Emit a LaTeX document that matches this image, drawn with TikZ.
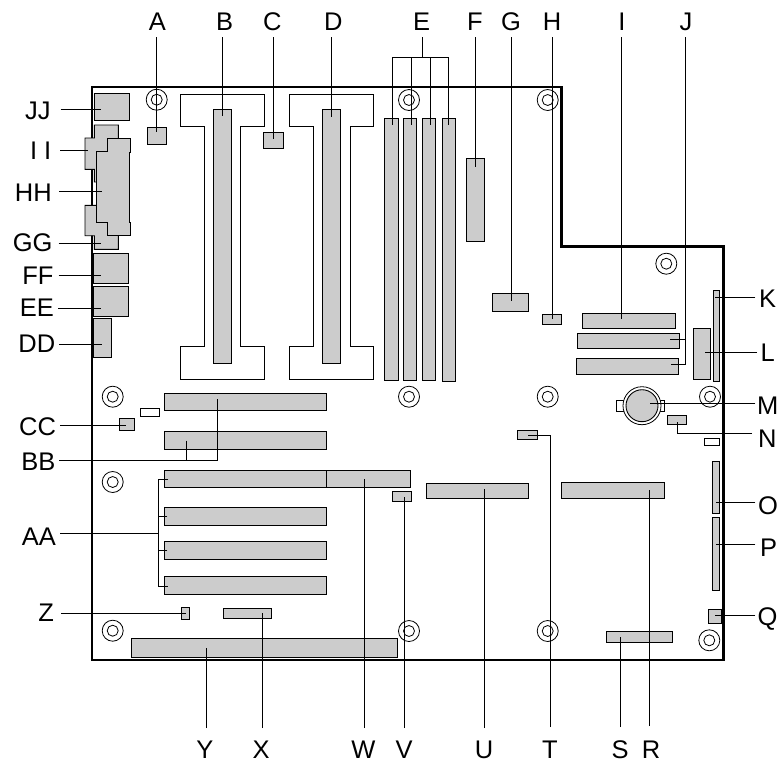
\documentclass[tikz,border=0pt]{standalone}
\usepackage{fontspec}
\setmainfont{Liberation Sans}
\tikzset{
  part/.style={draw=black,fill=black!20,line width=0.9pt},
  blank/.style={draw=black,fill=white,line width=0.9pt},
  edge/.style={draw=black,line width=2.6pt,miter limit=10},
  leader/.style={draw=black,line width=0.95pt},
  lbl/.style={font=\fontsize{25.5}{27}\selectfont,inner sep=0pt,outer sep=0pt},
  ring/.style={draw=black,fill=white,line width=0.8pt,circle,inner sep=0pt,outer sep=0pt}
}
% rectangular component, given by its corners
\newcommand{\cbox}[6][part]{%
  \pgfmathsetmacro{\cw}{#5-#3}\pgfmathsetmacro{\ch}{#6-#4}%
  \pgfmathsetmacro{\cx}{(#3+#5)/2}\pgfmathsetmacro{\cy}{(#4+#6)/2}%
  \node[#1,inner sep=0pt,outer sep=0pt,minimum width=\cw pt,minimum height=\ch pt] (#2) at (\cx,\cy) {};}
% mounting hole
\newcommand{\hole}[3]{%
  \node[ring,minimum size=21pt] (#1) at (#2,#3) {};
  \node[ring,minimum size=11pt] (#1i) at (#2,#3) {};}
% label with straight leader
\newcommand{\ltop}[4]{% name, x, end y, label x
  \node[lbl,anchor=base] (l#1) at (#4,30) {#1};
  \coordinate (s#1) at (#2,37);\coordinate (e#1) at (#2,#3);
  \draw[leader] (s#1) -- (e#1);}
\newcommand{\lbot}[5]{% name, x, start y, leader bottom, label x
  \node[lbl,anchor=base] (l#1) at (#5,758) {#1};
  \coordinate (s#1) at (#2,#4);\coordinate (e#1) at (#2,#3);
  \draw[leader] (s#1) -- (e#1);}
\newcommand{\lleft}[7]{% id, text, y, end x, text right, baseline, leader start
  \node[lbl,anchor=base east] (l#1) at (#5,#6) {#2};
  \coordinate (s#1) at (#7,#3);\coordinate (e#1) at (#4,#3);
  \draw[leader] (s#1) -- (e#1);}
\newcommand{\lright}[6]{% name, y, start x, end x, text left, baseline
  \node[lbl,anchor=base west] (l#1) at (#5,#6) {#1};
  \coordinate (s#1) at (#4,#2);\coordinate (e#1) at (#3,#2);
  \draw[leader] (s#1) -- (e#1);}
\begin{document}
\begin{tikzpicture}[x=1pt,y=-1pt]
\useasboundingbox (0,0) rectangle (778,761);
% board
\draw[edge] (92,87) -- (561.5,87) -- (561.5,246.5) -- (723.5,246.5) -- (723.5,660) -- (92,660) -- cycle;
% mounting holes
\hole{h1}{156.7}{99.7}\hole{h2}{409}{100}\hole{h3}{547.7}{100}\hole{h4}{666.3}{263.7}
\hole{h5}{112.7}{396.7}\hole{h6}{409}{396.7}\hole{h7}{547.7}{396.7}\hole{h8}{710}{396.7}
\hole{h9}{112.7}{482}\hole{h10}{112.7}{630.7}\hole{h11}{409}{631}\hole{h12}{547.7}{631}\hole{h13}{709.3}{640.3}
% processor outlines
\draw[blank] (180,94) -- (264.3,94) -- (264.3,126.3) -- (240.7,126.3) -- (240.7,346.7) -- (264.3,346.7) -- (264.3,379.7) -- (180,379.7) -- (180,346.7) -- (204.3,346.7) -- (204.3,126.3) -- (180,126.3) -- cycle;
\draw[blank] (289.3,94) -- (373.3,94) -- (373.3,126.3) -- (350,126.3) -- (350,346.7) -- (373.3,346.7) -- (373.3,379.7) -- (289.3,379.7) -- (289.3,346.7) -- (313.7,346.7) -- (313.7,126.3) -- (289.3,126.3) -- cycle;
% back panel
\cbox{jj}{94.3}{93.3}{129.7}{120.3}
\draw[part] (94.3,125) -- (118.3,125) -- (118.3,140) -- (110,182) -- (94.3,182) -- (94.3,169.3) -- (85,169.3) -- (85,138) -- (94.3,138) -- cycle;
\draw[part] (85,205.3) -- (110,205.3) -- (118.3,230) -- (118.3,249.3) -- (94.3,249.3) -- (94.3,235.7) -- (85,235.7) -- cycle;
\draw[part] (96,151.3) -- (107.7,151.3) -- (107.7,138) -- (130.7,138) -- (130.7,152) -- (129.7,152) -- (129.7,222.7) -- (130.7,222.7) -- (130.7,235.7) -- (107.7,235.7) -- (107.7,222.7) -- (96,222.7) -- cycle;
\cbox{ff}{93.3}{253.7}{128.3}{283.3}
\cbox{ee}{93.7}{286.7}{128.3}{316.3}
\cbox{dd}{93.3}{318.7}{111.7}{357.3}
% components
\cbox{a}{147}{127.3}{166.7}{144}
\cbox{b}{213.3}{109.7}{231.7}{363.7}
\cbox{c}{263.7}{132.3}{283}{148.7}
\cbox{d}{322.7}{109.7}{340.7}{363.7}
\cbox{e1}{384.3}{118.7}{398.7}{380.3}
\cbox{e2}{403.3}{118.7}{416.7}{380.3}
\cbox{e3}{422.3}{118.7}{435.7}{380.3}
\cbox{e4}{442.3}{118.7}{455.7}{381}
\cbox{f}{466.7}{158}{484.3}{241.7}
\cbox{g}{492.7}{293.7}{528}{311}
\cbox{h}{542.7}{314.3}{561.7}{324}
\cbox{i}{582.3}{313.3}{675.7}{328.7}
\cbox{j1}{577}{333.3}{679.3}{348.7}
\cbox{j2}{576.7}{358.3}{678.7}{374}
\cbox{k}{713.3}{290}{719.7}{381.7}
\cbox{ell}{693.3}{328.7}{710.7}{379.3}
\cbox[blank]{tab}{616.7}{400.3}{664.3}{411.3}
\node[ring,minimum size=38pt] (mo) at (642,405.7) {};
\node[part,circle,inner sep=0pt,outer sep=0pt,minimum size=32pt] (mi) at (642,405.7) {};
\cbox{n}{667.7}{415.3}{686.7}{424}
\cbox[blank]{w1}{704}{438}{719.3}{445}
\cbox{o}{712.7}{461.3}{719}{513.3}
\cbox{p}{712.7}{517.7}{719}{590}
\cbox{q}{708.7}{609.7}{721}{623.7}
\cbox{r}{561.7}{482.7}{664}{498.3}
\cbox{s}{606.7}{631.7}{672.7}{642.3}
\cbox{u}{426}{483}{528.3}{498.7}
\cbox{t}{517.7}{430.3}{537}{439.3}
\cbox{v}{392.3}{491.3}{411.3}{501.3}
\cbox{w}{326.7}{470.3}{410}{487.7}
\cbox{bb1}{164.7}{393}{326.7}{410.7}
\cbox{bb2}{164.7}{431.3}{326.7}{449}
\cbox{aa1}{164.7}{470}{326.7}{487.7}
\cbox{aa2}{164.7}{507.7}{326.7}{525.3}
\cbox{aa3}{164.7}{541.7}{326.7}{559}
\cbox{aa4}{164}{576.7}{326}{594.3}
\cbox{cc}{119.3}{418.7}{134.7}{430.3}
\cbox[blank]{w2}{140.7}{408}{159.7}{416.7}
\cbox{z}{181.3}{607.7}{189.7}{619}
\cbox{x}{223.3}{608.7}{271.7}{618.3}
\cbox{y}{131.7}{638.7}{397.3}{657.3}
% top labels
\ltop{A}{156.7}{131.7}{157.3}
\ltop{B}{222.7}{116.3}{224.7}
\ltop{C}{273}{138.7}{272.3}
\ltop{D}{331.3}{116.7}{333.3}
\ltop{F}{475}{166.7}{475}
\ltop{G}{511}{301.3}{511}
\ltop{H}{552}{318.7}{552}
\ltop{I}{621.7}{318.7}{622}
% E with four branches
\node[lbl,anchor=base] (lE) at (421.7,30) {E};
\coordinate (sE) at (422.7,37);\coordinate (jE) at (422.7,57.7);
\draw[leader] (sE) -- (jE);
\coordinate (eE1) at (392.7,124.7);\coordinate (eE2) at (411.3,124.7);\coordinate (eE3) at (430,124.7);\coordinate (eE4) at (448.7,124.7);
\draw[leader] (eE1) |- (jE) -| (eE4);
\draw[leader] (eE2) -- (eE2 |- jE);
\draw[leader] (eE3) -- (eE3 |- jE);
% J with two branches
\node[lbl,anchor=base] (lJ) at (686,30) {J};
\coordinate (sJ) at (685.3,37);\coordinate (eJ1) at (670,339.7);\coordinate (eJ2) at (671,364.3);
\draw[leader] (sJ) |- (eJ2);
\draw[leader] (eJ1) -- (sJ |- eJ1);
% right labels
\lright{K}{297.7}{715.3}{755.3}{759}{307.5}
\lright{L}{352.3}{705}{757}{760.5}{361}
\lright{M}{403.7}{650}{755.3}{757}{414}
\node[lbl,anchor=base west] (lN) at (758,447) {N};
\coordinate (sN) at (752,433.3);\coordinate (eN) at (677.7,421.7);
\draw[leader] (sN) -| (eN);
\lright{O}{502.7}{715.7}{755.3}{758}{514}
\lright{P}{544}{715.7}{755.3}{760.2}{556}
\lright{Q}{615.7}{715}{755.3}{757.5}{625}
% bottom labels
\lbot{R}{649.7}{490}{726}{651}
\lbot{S}{620}{636.7}{727}{620}
\node[lbl,anchor=base] (lT) at (550,758) {T};
\coordinate (sT) at (550.3,727);\coordinate (eT) at (528.3,435.7);
\draw[leader] (sT) |- (eT);
\lbot{U}{484}{489}{728}{484}
\lbot{V}{404.7}{497}{728}{404}
\lbot{W}{364.7}{479}{728}{363.3}
\lbot{X}{262}{612.7}{728}{261}
\lbot{Y}{206.3}{648.3}{728}{205}
% left labels
\lleft{Z}{Z}{613.7}{186}{54}{621.7}{61}
\node[lbl,anchor=base east] (lAA) at (56,545) {AA};
\coordinate (sAA) at (60,533);\coordinate (jAA) at (158.7,533);
\coordinate (eAA1) at (168.3,479.7);\coordinate (eAA2) at (167.3,516.7);\coordinate (eAA3) at (167.3,550);\coordinate (eAA4) at (168.3,586.7);
\draw[leader] (sAA) -- (jAA);
\draw[leader] (eAA1) -| (jAA) |- (eAA4);
\draw[leader] (eAA2) -- (jAA |- eAA2);
\draw[leader] (eAA3) -- (jAA |- eAA3);
\node[lbl,anchor=base east] (lBB) at (55.5,470) {BB};
\coordinate (sBB) at (59,460.3);\coordinate (eBB1) at (217,399.3);\coordinate (eBB2) at (186.3,440.7);
\draw[leader] (sBB) -| (eBB1);
\draw[leader] (eBB2) -- (eBB2 |- sBB);
\lleft{CC}{CC}{425}{125.7}{56}{435}{60}
\lleft{DD}{DD}{344}{101.7}{55.3}{352.7}{59.3}
\lleft{EE}{EE}{308.3}{100.7}{54}{316.7}{58.3}
\lleft{FF}{FF}{275.7}{100.7}{53.5}{284.3}{58.7}
\lleft{GG}{GG}{243}{100.7}{52.5}{251.7}{58.7}
\lleft{HH}{HH}{191.7}{102.3}{51.7}{201.7}{59.3}
\lleft{II}{I I}{150}{88}{51.3}{159.3}{60.3}
\lleft{JJ}{JJ}{109}{100.7}{50.7}{119}{60.7}
\end{tikzpicture}
\end{document}
